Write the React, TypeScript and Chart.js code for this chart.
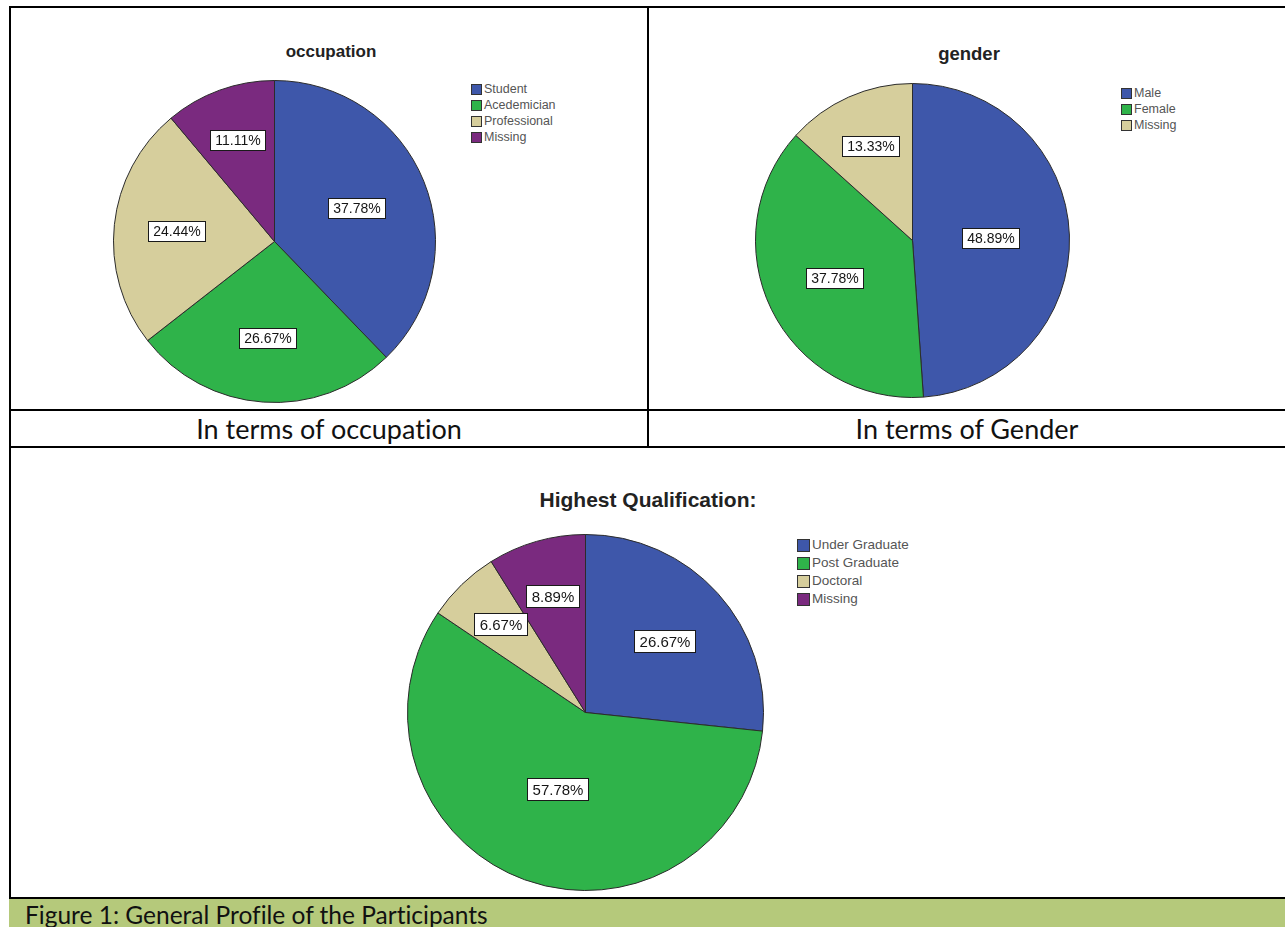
import React, { useEffect, useRef } from "react";
import { Chart, registerables } from "chart.js";

Chart.register(...registerables);

// ---------- data ----------
const occupationLabels = ["Student", "Acedemician", "Professional", "Missing"];
const occupationValues = [37.78, 26.67, 24.44, 11.11];

const genderLabels = ["Male", "Female", "Missing"];
const genderValues = [48.89, 37.78, 13.33];

const qualificationLabels = ["Under Graduate", "Post Graduate", "Doctoral", "Missing"];
const qualificationValues = [26.67, 57.78, 6.67, 8.89];

// ---------- styles ----------
const BLUE = "#3e57aa";
const GREEN = "#2fb34a";
const TAN = "#d6ce9c";
const PURPLE = "#7a2a7f";

const occupationColors = [BLUE, GREEN, TAN, PURPLE];
const genderColors = [BLUE, GREEN, TAN];
const qualificationColors = [BLUE, GREEN, TAN, PURPLE];

const ARIAL = '"Liberation Sans", Arial, sans-serif';
const CAPTION_FONT = 'Lato, "Open Sans", sans-serif';

const boxLabelPlugin = {
  id: "boxLabels",
  afterDatasetsDraw(chart: any, _args: any, opts: any) {
    const ctx = chart.ctx;
    const meta = chart.getDatasetMeta(0);
    const data = chart.data.datasets[0].data as number[];
    const total = data.reduce((a: number, b: number) => a + b, 0);
    ctx.save();
    ctx.font = `${opts.fontSize}px ${ARIAL}`;
    ctx.textAlign = "center";
    ctx.textBaseline = "middle";
    meta.data.forEach((arc: any, i: number) => {
      const p = arc.getProps(["x", "y", "startAngle", "endAngle", "outerRadius"], true);
      const share = data[i] / total;
      const frac = 0.72 - 0.45 * share;
      const mid = (p.startAngle + p.endAngle) / 2;
      const lx = p.x + Math.cos(mid) * p.outerRadius * frac;
      const ly = p.y + Math.sin(mid) * p.outerRadius * frac;
      const text = data[i].toFixed(2) + "%";
      const w = Math.round(ctx.measureText(text).width + 2 * opts.padX);
      const h = opts.boxH;
      const bx = Math.round(lx - w / 2) + 0.5;
      const by = Math.round(ly - h / 2) + 0.5;
      ctx.fillStyle = "#ffffff";
      ctx.fillRect(bx, by, w, h);
      ctx.strokeStyle = "#1a1a1a";
      ctx.lineWidth = 1;
      ctx.strokeRect(bx, by, w, h);
      ctx.fillStyle = "#151515";
      ctx.fillText(text, bx + w / 2, by + h / 2 + 1);
    });
    ctx.restore();
  },
};

type PieProps = {
  labels: string[];
  values: number[];
  colors: string[];
  cx: number;
  cy: number;
  r: number;
  fontSize: number;
  boxH: number;
};

function Pie({ labels, values, colors, cx, cy, r, fontSize, boxH }: PieProps) {
  const ref = useRef<HTMLCanvasElement | null>(null);
  const size = Math.round(2 * r + 1);
  useEffect(() => {
    if (!ref.current) return;
    const chart = new Chart(ref.current, {
      type: "pie",
      data: {
        labels,
        datasets: [
          {
            data: values,
            backgroundColor: colors,
            borderColor: "#2b2b2b",
            borderWidth: 1,
          },
        ],
      },
      options: {
        responsive: false,
        animation: false,
        devicePixelRatio: 1,
        layout: { padding: 0 },
        plugins: {
          legend: { display: false },
          tooltip: { enabled: false },
          boxLabels: { fontSize, boxH, padX: 5 },
        } as any,
      },
      plugins: [boxLabelPlugin],
    });
    return () => chart.destroy();
  }, []);
  return (
    <canvas
      ref={ref}
      width={size}
      height={size}
      style={{
        position: "absolute",
        left: Math.round(cx - size / 2),
        top: Math.round(cy - size / 2),
        width: size,
        height: size,
      }}
    />
  );
}

type LegendProps = {
  labels: string[];
  colors: string[];
  x: number;
  y: number;
  pitch: number;
  swatch: number;
  fontSize: number;
};

function Legend({ labels, colors, x, y, pitch, swatch, fontSize }: LegendProps) {
  return (
    <>
      {labels.map((l, i) => (
        <div
          key={l + i}
          style={{
            position: "absolute",
            left: x,
            top: y + i * pitch - pitch / 2,
            height: pitch,
            display: "flex",
            alignItems: "center",
            whiteSpace: "nowrap",
          }}
        >
          <div
            style={{
              width: swatch - 2,
              height: swatch - 2,
              background: colors[i],
              border: "1px solid #333",
              marginRight: 2,
            }}
          />
          <span style={{ fontFamily: ARIAL, fontSize, color: "#555", lineHeight: 1 }}>{l}</span>
        </div>
      ))}
    </>
  );
}

function Title({ text, cx, cy, fontSize }: { text: string; cx: number; cy: number; fontSize: number }) {
  return (
    <div
      style={{
        position: "absolute",
        left: cx - 200,
        width: 400,
        top: cy - fontSize,
        height: fontSize * 2,
        lineHeight: `${fontSize * 2}px`,
        textAlign: "center",
        fontFamily: ARIAL,
        fontWeight: "bold",
        fontSize,
        color: "#222",
      }}
    >
      {text}
    </div>
  );
}

function Line({ x, y, w, h, c = "#000" }: { x: number; y: number; w: number; h: number; c?: string }) {
  return <div style={{ position: "absolute", left: x, top: y, width: w, height: h, background: c }} />;
}

const captionStyle: React.CSSProperties = {
  position: "absolute",
  width: 636,
  top: 411,
  height: 35,
  lineHeight: "35px",
  textAlign: "center",
  fontFamily: CAPTION_FONT,
  fontSize: 27,
  color: "#111",
  fontVariantLigatures: "none",
  whiteSpace: "nowrap",
};

export default function App() {
  useEffect(() => {
    document.body.style.margin = "0";
  }, []);
  return (
    <div
      style={{
        position: "fixed",
        left: 0,
        top: 0,
        width: 1285,
        height: 927,
        background: "#fff",
        overflow: "hidden",
      }}
    >
      {/* green figure band */}
      <div
        style={{
          position: "absolute",
          left: 9,
          top: 899,
          width: 1276,
          height: 28,
          background: "#b5c97b",
        }}
      />
      <div
        style={{
          position: "absolute",
          left: 25,
          top: 899,
          height: 28,
          lineHeight: "32px",
          fontFamily: CAPTION_FONT,
          fontSize: 24.5,
          color: "#111",
          whiteSpace: "nowrap",
          fontVariantLigatures: "none",
          overflow: "hidden",
        }}
      >
        Figure 1: General Profile of the Participants
      </div>

      {/* table lines */}
      <Line x={9} y={6} w={1276} h={2} />
      <Line x={9} y={6} w={2} h={893} />
      <Line x={647} y={6} w={2} h={442} />
      <Line x={9} y={409} w={1276} h={2} />
      <Line x={9} y={446} w={1276} h={2} />
      <Line x={9} y={897} w={1276} h={2} />

      {/* captions */}
      <div style={{ ...captionStyle, left: 11 }}>In terms of occupation</div>
      <div style={{ ...captionStyle, left: 649 }}>In terms of Gender</div>

      {/* occupation */}
      <Title text="occupation" cx={331} cy={52} fontSize={17} />
      <Pie
        labels={occupationLabels}
        values={occupationValues}
        colors={occupationColors}
        cx={274}
        cy={241}
        r={161}
        fontSize={14}
        boxH={20}
      />
      <Legend labels={occupationLabels} colors={occupationColors} x={471} y={89} pitch={16} swatch={11} fontSize={12.5} />

      {/* gender */}
      <Title text="gender" cx={969} cy={53} fontSize={18.5} />
      <Pie
        labels={genderLabels}
        values={genderValues}
        colors={genderColors}
        cx={912}
        cy={240}
        r={157}
        fontSize={14}
        boxH={20}
      />
      <Legend labels={genderLabels} colors={genderColors} x={1121} y={93} pitch={16} swatch={11} fontSize={12.5} />

      {/* highest qualification */}
      <Title text="Highest Qualification:" cx={648} cy={500} fontSize={21} />
      <Pie
        labels={qualificationLabels}
        values={qualificationValues}
        colors={qualificationColors}
        cx={585}
        cy={712}
        r={178}
        fontSize={15}
        boxH={22}
      />
      <Legend
        labels={qualificationLabels}
        colors={qualificationColors}
        x={797}
        y={545}
        pitch={18}
        swatch={13}
        fontSize={13.5}
      />
    </div>
  );
}
